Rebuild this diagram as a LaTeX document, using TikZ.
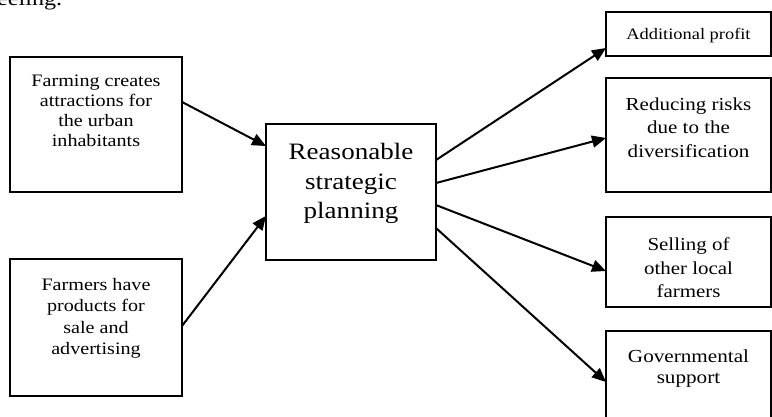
\documentclass[tikz,border=0pt]{standalone}
\usepackage{fontspec}
\setmainfont[FakeStretch=1.15]{Liberation Serif}
\usetikzlibrary{arrows.meta,calc}
\begin{document}
\begin{tikzpicture}[x=1pt,y=-1pt,
  boxnode/.style={draw,line width=1.6pt,anchor=north west,inner sep=0pt,outer sep=0pt},
  lbl/.style={anchor=north,align=center,inner sep=0pt},
  arr/.style={line width=2pt,-{Triangle[length=14pt,width=12pt]}},
  ]
\useasboundingbox (0,0) rectangle (772,416);
\clip (0,0) rectangle (772,416);
% fragment of page text
\node[anchor=base west,inner sep=0pt,font=\fontsize{21}{24}\selectfont] (frag) at (-3,5.5) {eeling.};
% boxes
\node[boxnode,minimum width=172pt,minimum height=135pt] (b1) at (10,57) {};
\node[boxnode,minimum width=172pt,minimum height=137pt] (b2) at (10,259) {};
\node[boxnode,minimum width=170pt,minimum height=136pt] (c) at (266,124) {};
\node[boxnode,minimum width=165pt,minimum height=44pt] (r1) at (606,12) {};
\node[boxnode,minimum width=165pt,minimum height=114pt] (r2) at (606,78) {};
\node[boxnode,minimum width=165pt,minimum height=90pt] (r3) at (606,217) {};
\node[boxnode,minimum width=165pt,minimum height=100pt] (r4) at (606,331) {};
% labels
\node[lbl,font=\fontsize{17.5}{20}\selectfont] (t1) at ([yshift=-18pt]b1.north) {Farming creates\\attractions for\\the urban\\inhabitants};
\node[lbl,font=\fontsize{17.5}{21.5}\selectfont] (t2) at ([yshift=-19pt]b2.north) {Farmers have\\products for\\sale and\\advertising};
\node[lbl,font=\fontsize{23.5}{29.5}\selectfont] (tc) at ([yshift=-19pt]c.north) {Reasonable\\strategic\\planning};
\node[lbl,font=\fontsize{16}{19}\selectfont] (tr1) at ([yshift=-16.5pt]r1.north) {Additional profit};
\node[lbl,font=\fontsize{18.3}{23.3}\selectfont] (tr2) at ([yshift=-19.5pt]r2.north) {Reducing risks\\due to the\\diversification};
\node[lbl,font=\fontsize{18.2}{23.5}\selectfont] (tr3) at ([yshift=-20.6pt]r3.north) {Selling of\\other local\\farmers};
\node[lbl,font=\fontsize{18.4}{21.5}\selectfont] (tr4) at ([yshift=-18.4pt]r4.north) {Governmental\\support};
% connectors
\draw[arr] ($(b1.north east)!0.333!(b1.south east)$) -- ($(c.north west)!0.162!(c.south west)$);
\draw[arr] ($(b2.north east)!0.489!(b2.south east)$) -- ($(c.north west)!0.676!(c.south west)$);
\draw[arr] ($(c.north east)!0.265!(c.south east)$) -- ($(r1.north west)!0.818!(r1.south west)$);
\draw[arr] ($(c.north east)!0.434!(c.south east)$) -- ($(r2.north west)!0.526!(r2.south west)$);
\draw[arr] ($(c.north east)!0.596!(c.south east)$) -- ($(r3.north west)!0.6!(r3.south west)$);
\draw[arr] ($(c.north east)!0.765!(c.south east)$) -- ($(r4.north west)!0.51!(r4.south west)$);
\end{tikzpicture}
\end{document}
